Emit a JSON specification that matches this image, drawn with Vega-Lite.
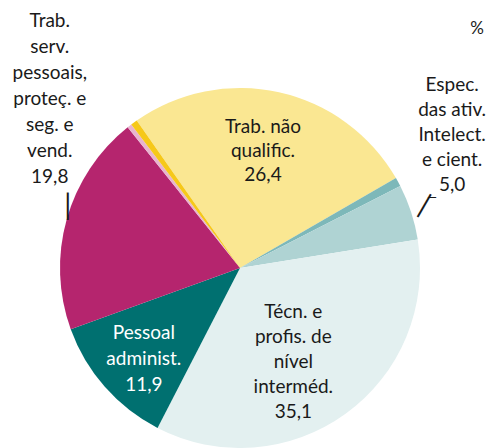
{
  "$schema": "https://vega.github.io/schema/vega-lite/v6.json",
  "autosize": "none",
  "width": 480,
  "height": 360,
  "padding": {"top": 88, "left": 0, "right": 8, "bottom": 0},
  "background": "white",
  "config": {"view": {"stroke": null}},
  "data": {"values": [
    {"ord": 1, "cat": "Trab. não qualific.", "value": 26.4, "label": "Trab. não\nqualific.\n26,4"},
    {"ord": 2, "cat": "Outros A", "value": 0.8, "label": ""},
    {"ord": 3, "cat": "Espec. das ativ. intelect. e cient.", "value": 5.0, "label": "Espec.\ndas ativ.\nIntelect.\ne cient.\n5,0"},
    {"ord": 4, "cat": "Técn. e profis. de nível interméd.", "value": 35.1, "label": "Técn. e\nprofis. de\nnível\ninterméd.\n35,1"},
    {"ord": 5, "cat": "Pessoal administ.", "value": 11.9, "label": "Pessoal\nadminist.\n11,9"},
    {"ord": 6, "cat": "Trab. serv. pessoais, proteç. e seg. e vend.", "value": 19.8, "label": "Trab.\nserv.\npessoais,\nproteç. e\nseg. e\nvend.\n19,8"},
    {"ord": 7, "cat": "Outros B", "value": 0.4, "label": ""},
    {"ord": 8, "cat": "Outros C", "value": 0.6, "label": ""}
  ]},
  "encoding": {
    "theta": {"field": "value", "type": "quantitative", "stack": true, "scale": {"range": [-0.611, 5.672]}},
    "order": {"field": "ord", "type": "quantitative"}
  },
  "layer": [
    {
      "mark": {"type": "arc", "outerRadius": 180},
      "encoding": {
        "color": {"field": "cat", "type": "nominal", "legend": null,
          "scale": {
            "domain": ["Trab. não qualific.", "Outros A", "Espec. das ativ. intelect. e cient.", "Técn. e profis. de nível interméd.", "Pessoal administ.", "Trab. serv. pessoais, proteç. e seg. e vend.", "Outros B", "Outros C"],
            "range": ["#FAE792", "#7DB8B9", "#AFD3D3", "#E3F0F0", "#007070", "#B5256E", "#E8B4CF", "#F6C819"]
          }}
      }
    },
    {
      "mark": {"type": "text", "radius": 120, "dx": -3, "dy": -24, "font": "Lato", "fontSize": 19, "lineHeight": 24, "lineBreak": "\n", "align": "center", "baseline": "middle", "color": "#1a1a1a"},
      "encoding": {"text": {"condition": {"test": "datum.ord === 1", "field": "label"}, "value": ""}}
    },
    {
      "mark": {"type": "text", "radius": 108, "dx": -10, "dy": -43, "font": "Lato", "fontSize": 19, "lineHeight": 25, "lineBreak": "\n", "align": "center", "baseline": "middle", "color": "#1a1a1a"},
      "encoding": {"text": {"condition": {"test": "datum.ord === 4", "field": "label"}, "value": ""}}
    },
    {
      "mark": {"type": "text", "radius": 132, "dx": 3, "dy": -22, "font": "Lato", "fontSize": 19, "lineHeight": 26, "lineBreak": "\n", "align": "center", "baseline": "middle", "color": "#ffffff"},
      "encoding": {"text": {"condition": {"test": "datum.ord === 5", "field": "label"}, "value": ""}}
    },
    {
      "mark": {"type": "text", "radius": 180, "dx": -17, "dy": -198, "font": "Lato", "fontSize": 19, "lineHeight": 26, "lineBreak": "\n", "align": "center", "baseline": "middle", "color": "#1a1a1a"},
      "encoding": {"text": {"condition": {"test": "datum.ord === 6", "field": "label"}, "value": ""}}
    },
    {
      "mark": {"type": "text", "radius": 180, "dx": 41, "dy": -127, "font": "Lato", "fontSize": 19, "lineHeight": 25, "lineBreak": "\n", "align": "center", "baseline": "middle", "color": "#1a1a1a"},
      "encoding": {"text": {"condition": {"test": "datum.ord === 3", "field": "label"}, "value": ""}}
    },
    {
      "mark": {"type": "text", "radius": 180, "dx": 198, "dy": -63, "font": "Lato", "fontSize": 17, "align": "center", "baseline": "middle", "color": "#1a1a1a"},
      "encoding": {"text": {"condition": {"test": "datum.ord === 1", "value": "%"}, "value": ""}}
    },
    {
      "mark": {"type": "text", "radius": 180, "dx": 1, "dy": -12, "font": "Lato", "fontSize": 28, "align": "center", "baseline": "middle", "color": "#1a1a1a"},
      "encoding": {"text": {"condition": {"test": "datum.ord === 6", "value": "|"}, "value": ""}}
    },
    {
      "mark": {"type": "text", "radius": 180, "dx": 8, "dy": -12, "angle": 30, "font": "Lato", "fontSize": 28, "align": "center", "baseline": "middle", "color": "#1a1a1a"},
      "encoding": {"text": {"condition": {"test": "datum.ord === 3", "value": "|"}, "value": ""}}
    },
    {
      "mark": {"type": "text", "radius": 180, "dx": 21, "dy": -15, "font": "Lato", "fontSize": 12, "fontWeight": "bold", "align": "center", "baseline": "middle", "color": "#1a1a1a"},
      "encoding": {"text": {"condition": {"test": "datum.ord === 3", "value": "—"}, "value": ""}}
    }
  ]
}
